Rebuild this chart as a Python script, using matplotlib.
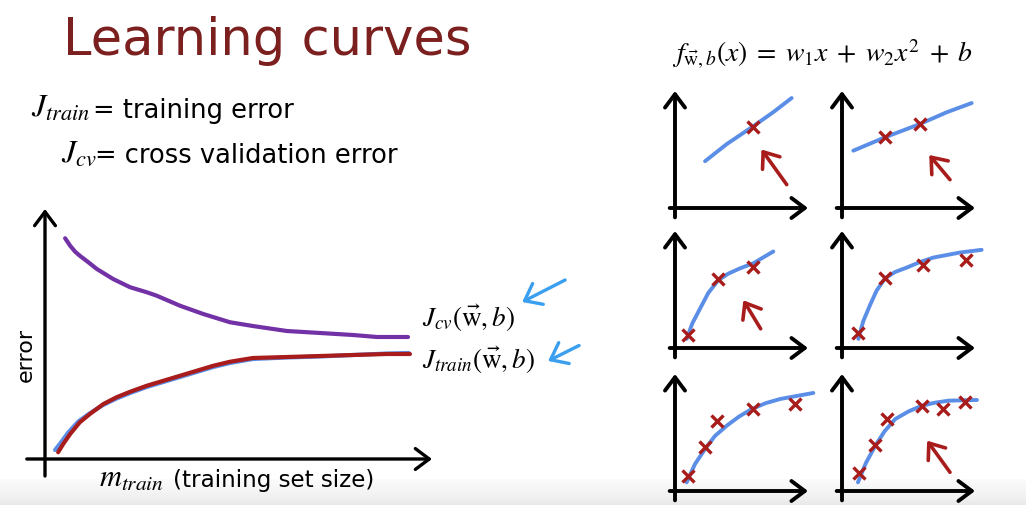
import numpy as np
import matplotlib.pyplot as plt

plt.rcParams['mathtext.fontset'] = 'stix'
plt.rcParams['font.family'] = ['DejaVu Sans']

W, H = 1026, 506

# main learning-curve data (x: training set size, y: error, both 0..100)
cv_x = [5.2, 6.5, 7.8, 9.0, 11.2, 13.4, 17.6, 22.0, 26.3, 28.9, 34.9, 40.9, 47.8,
        53.7, 62.5, 71.1, 79.6, 85.8, 93.8]
cv_y = [88.3, 85.3, 82.9, 81.3, 78.7, 76.0, 72.0, 68.7, 66.7, 65.3, 61.3, 58.0, 54.7,
        53.2, 51.2, 50.4, 49.6, 48.8, 48.8]
train_x = [3.4, 4.7, 6.5, 9.0, 11.6, 15.1, 18.5, 22.0, 26.3, 30.6, 34.9, 39.2, 43.5,
           47.8, 53.7, 62.5, 71.1, 79.6, 88.4, 94.3]
train_y = [2.7, 6.0, 10.0, 14.7, 18.0, 22.0, 24.7, 26.9, 29.3, 31.3, 33.3, 35.3, 37.3,
           38.9, 40.4, 40.8, 41.2, 41.6, 42.0, 42.0]
train_blue_x = [2.6, 4.2, 6.0, 8.6, 11.3, 15.0, 18.5, 22.0, 26.3, 30.6, 34.9, 39.2, 43.5,
                47.8, 53.7, 62.5, 71.1, 79.6, 88.4, 94.0]
train_blue_y = [3.6, 6.8, 10.6, 15.0, 18.0, 21.6, 24.2, 26.4, 28.8, 30.8, 32.8, 34.8, 36.8,
                38.4, 40.0, 40.6, 41.0, 41.6, 42.2, 42.4]

# hand-drawn blue pointer arrows next to the labels (tail, head)
pointer_tails = [(134.4, 71.6), (138.0, 45.4)]
pointer_heads = [(123.3, 62.8), (130.0, 39.2)]

# six small panels: fitted curve, training examples, red pointer arrow
panel_fit = [
    ([0.226, 0.39, 0.59, 0.74, 0.877], [0.40, 0.547, 0.70, 0.82, 0.94]),
    ([0.085, 0.323, 0.586, 0.787, 0.975], [0.49, 0.604, 0.718, 0.818, 0.897]),
    ([0.088, 0.13, 0.188, 0.25, 0.326, 0.40, 0.489, 0.589, 0.739],
     [0.078, 0.21, 0.336, 0.47, 0.58, 0.635, 0.681, 0.724, 0.825]),
    ([0.123, 0.16, 0.21, 0.26, 0.323, 0.40, 0.486, 0.587, 0.687, 0.887, 1.05],
     [0.078, 0.23, 0.365, 0.49, 0.595, 0.65, 0.687, 0.735, 0.773, 0.816, 0.839]),
    ([0.088, 0.15, 0.226, 0.30, 0.389, 0.48, 0.576, 0.68, 0.789, 1.04],
     [0.074, 0.23, 0.359, 0.47, 0.558, 0.635, 0.70, 0.75, 0.786, 0.838]),
    ([0.12, 0.18, 0.25, 0.32, 0.40, 0.50, 0.60, 0.70, 0.80, 1.015],
     [0.074, 0.24, 0.387, 0.51, 0.615, 0.68, 0.729, 0.755, 0.772, 0.778]),
]
panel_pts = [
    ([0.59], [0.69]),
    ([0.323, 0.586], [0.61, 0.72]),
    ([0.094, 0.32, 0.589], [0.11, 0.586, 0.695]),
    ([0.118, 0.323, 0.609, 0.935], [0.13, 0.60, 0.71, 0.749]),
    ([0.094, 0.226, 0.318, 0.584, 0.905], [0.13, 0.373, 0.595, 0.70, 0.744]),
    ([0.125, 0.25, 0.338, 0.60, 0.762, 0.925], [0.154, 0.393, 0.615, 0.724, 0.70, 0.758]),
]
panel_arrow = [
    ((0.84, 0.20), (0.65, 0.50)),
    ((0.812, 0.242), (0.656, 0.453)),
    ((0.644, 0.164), (0.514, 0.408)),
    None,
    None,
    ((0.812, 0.16), (0.64, 0.43)),
]
# panel origins in pixels (x of y-axis, y of x-axis)
panel_orig = [(675, 209), (842, 209), (675, 349), (842, 349), (675, 492), (842, 492)]

PURPLE = '#7232a6'
RED = '#a81c1c'
BLUE = '#5b8ee6'
SKY = '#3b9ff0'
AXARROW = '->,head_length=0.4,head_width=0.3'


def fx(x):
    return x / W


def fy(y):
    return 1 - y / H


fig = plt.figure(figsize=(W / 100, H / 100), dpi=100)
fig.patch.set_facecolor('white')

# player bar gradient at the very bottom
bax = fig.add_axes([0, 0, 1, 26 / H])
grad = np.linspace(0.03, 0.16, 40).reshape(-1, 1)
bax.imshow(grad, aspect='auto', cmap='Greys', vmin=0, vmax=1, origin='upper')
bax.axis('off')

# titles / text
fig.text(fx(63), fy(55), 'Learning curves', fontsize=36.8, color='#7b1f1f', va='baseline')
fig.text(fx(31), fy(117), r'$J_{train}$', fontsize=23, va='baseline')
fig.text(fx(93), fy(118), '= training error', fontsize=18.5, va='baseline')
fig.text(fx(61), fy(162), r'$J_{cv}$', fontsize=23, va='baseline')
fig.text(fx(95), fy(163), '= cross validation error', fontsize=18.5, va='baseline')
fig.text(fx(26), fy(355), 'error', rotation=90, fontsize=16, va='center', ha='center')
fig.text(fx(99), fy(487), r'$m_{train}$', fontsize=22, va='baseline')
fig.text(fx(173), fy(487), '(training set size)', fontsize=16.6, va='baseline')
fig.text(fx(672), fy(63),
         r'$f_{\vec{\mathrm{w}},b}(x)\;=\;w_1x\;+\;w_2x^2\;+\;b$',
         fontsize=20, va='baseline')

# main plot
ax = fig.add_axes([fx(45), fy(460), 387 / W, 250 / H])
ax.set_xlim(0, 100)
ax.set_ylim(0, 100)
ax.axis('off')
ax.annotate('', xy=(100, 0), xytext=(-4.7, 0), annotation_clip=False,
            arrowprops=dict(arrowstyle=AXARROW, lw=2.4, color='black', mutation_scale=25,
                            shrinkA=0, shrinkB=0))
ax.annotate('', xy=(0, 100), xytext=(0, -6.8), annotation_clip=False,
            arrowprops=dict(arrowstyle=AXARROW, lw=2.4, color='black', mutation_scale=25,
                            shrinkA=0, shrinkB=0))
ax.plot(cv_x, cv_y, color=PURPLE, lw=3, solid_capstyle='round', clip_on=False)
ax.plot(train_blue_x, train_blue_y, color=BLUE, lw=3, solid_capstyle='round', clip_on=False)
ax.plot(train_x, train_y, color=RED, lw=3, solid_capstyle='round', clip_on=False)
ax.text(97.4, 56.5, r'$J_{cv}(\vec{\mathrm{w}},b)$', fontsize=19.5, va='center')
ax.text(97.4, 40.0, r'$J_{train}(\vec{\mathrm{w}},b)$', fontsize=19.5, va='center')
for tail, head in zip(pointer_tails, pointer_heads):
    ax.annotate('', xy=head, xytext=tail, annotation_clip=False,
                arrowprops=dict(arrowstyle='->,head_length=0.45,head_width=0.35', lw=2.4,
                                color=SKY, mutation_scale=24, shrinkA=0, shrinkB=0))

# small panels
for i, (ox, oy) in enumerate(panel_orig):
    pa = fig.add_axes([fx(ox), fy(oy), 133 / W, 117 / H])
    pa.set_xlim(0, 1)
    pa.set_ylim(0, 1)
    pa.axis('off')
    pa.annotate('', xy=(1, 0), xytext=(-0.04, 0), annotation_clip=False,
                arrowprops=dict(arrowstyle=AXARROW, lw=2.8, color='black', mutation_scale=24,
                                shrinkA=0, shrinkB=0))
    pa.annotate('', xy=(0, 1), xytext=(0, -0.08), annotation_clip=False,
                arrowprops=dict(arrowstyle=AXARROW, lw=2.8, color='black', mutation_scale=24,
                                shrinkA=0, shrinkB=0))
    fx_, fy_ = panel_fit[i]
    pa.plot(fx_, fy_, color=BLUE, lw=2.8, solid_capstyle='round', clip_on=False)
    px_, py_ = panel_pts[i]
    pa.plot(px_, py_, 'x', color=RED, ms=8, mew=2.4, clip_on=False)
    if panel_arrow[i] is not None:
        tail, head = panel_arrow[i]
        pa.annotate('', xy=head, xytext=tail, annotation_clip=False,
                    arrowprops=dict(arrowstyle='->,head_length=0.45,head_width=0.35', lw=2.6,
                                    color=RED, mutation_scale=22, shrinkA=0, shrinkB=0))

fig.savefig('out.png', dpi=100)
